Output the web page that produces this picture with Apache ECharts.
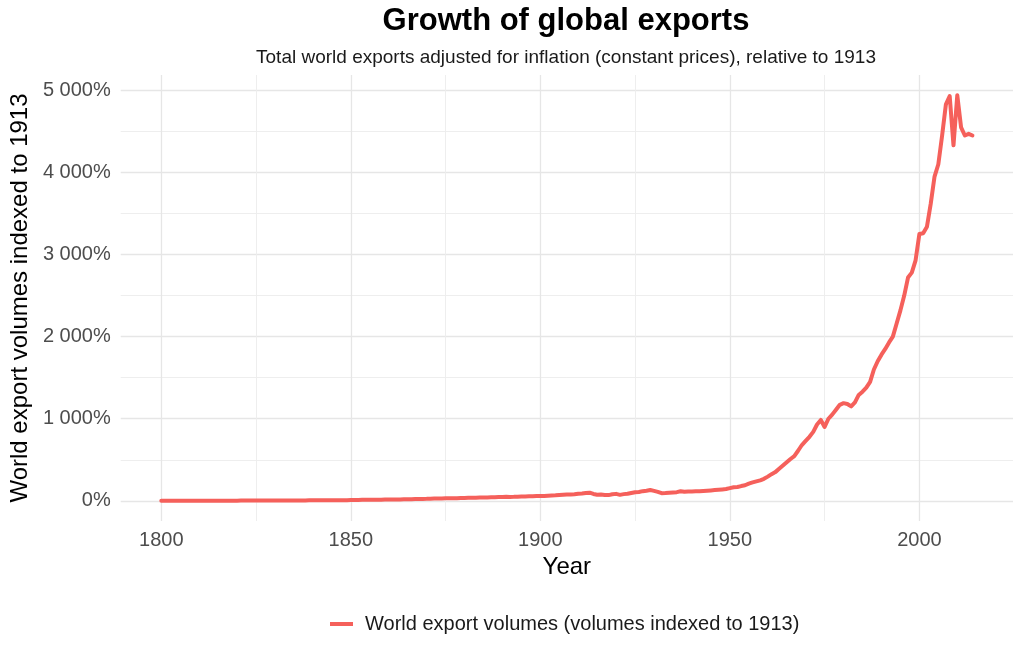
<!DOCTYPE html>
<html>
<head>
<meta charset="utf-8">
<title>Growth of global exports</title>
<script src="https://cdn.jsdelivr.net/npm/echarts@6/dist/echarts.min.js"></script>
<style>
  html, body { margin: 0; padding: 0; background: #fff; }
  #chart { width: 1024px; height: 655px; }
</style>
</head>
<body>
<div id="chart"></div>
<script>
// world export volumes, 1913 = 100 (%), one value per year from firstYear
var firstYear = 1800;
var exportIndex = [
  1.5, 1.6, 1.7, 1.6, 1.7, 1.8, 1.8, 1.7, 1.5, 1.7,        // 1800s
  1.8, 1.7, 1.7, 1.8, 2.0, 2.2, 2.3, 2.4, 2.5, 2.5,        // 1810s
  2.6, 2.8, 2.9, 3.0, 3.2, 3.3, 3.3, 3.6, 3.7, 3.8,        // 1820s
  4.0, 4.1, 4.3, 4.5, 4.7, 4.9, 5.3, 5.2, 5.5, 5.8,        // 1830s
  6.0, 6.2, 6.3, 6.7, 7.2, 7.6, 7.8, 8.2, 8.0, 8.8,        // 1840s
  9.7, 10.3, 11.0, 12.2, 12.8, 13.0, 14.2, 14.5, 14.4, 15.8, // 1850s
  17.0, 17.2, 17.0, 17.8, 18.6, 20.0, 21.0, 22.0, 23.3, 24.0, // 1860s
  24.5, 26.5, 28.0, 28.6, 29.5, 30.6, 31.0, 31.7, 32.5, 34.5, // 1870s
  36.0, 37.0, 38.5, 39.2, 39.8, 40.5, 41.5, 43.0, 44.5, 46.5, // 1880s
  47.5, 48.5, 48.0, 48.5, 50.5, 52.0, 53.5, 55.0, 57.0, 58.5, // 1890s
  59.0, 60.0, 62.5, 65.5, 67.0, 71.0, 75.0, 78.0, 76.0, 80.0, // 1900s
  86.0, 89.0, 95.0, 100.0, 84.0, 74.0, 78.0, 72.0, 70.0, 80.0, // 1910s
  85.0, 73.0, 82.0, 86.0, 96.0, 105.0, 108.0, 118.0, 124.0, 132.0, // 1920s
  122.0, 110.0, 94.0, 95.0, 98.0, 102.0, 106.0, 117.0, 110.0, 113.0, // 1930s
  114.0, 116.0, 118.0, 121.0, 124.0, 127.0, 131.0, 135.0, 139.0, 144.0, // 1940s
  155, 165, 168, 180, 190, 210, 225, 238, 250, 268,         // 1950s
  295, 325, 350, 390, 430, 470, 510, 545, 610, 680,         // 1960s
  730, 780, 840, 930, 985, 900, 1000, 1050, 1110, 1170,     // 1970s
  1190, 1180, 1150, 1200, 1290, 1330, 1380, 1450, 1600, 1700, // 1980s
  1780, 1850, 1930, 2000, 2160, 2320, 2500, 2720, 2780, 2930, // 1990s
  3250, 3260, 3340, 3620, 3950, 4100, 4450, 4830, 4930, 4330, // 2000s
  4940, 4550, 4450, 4470, 4450                              // 2010s
];

var yearTicks = [1800, 1850, 1900, 1950, 2000];
var yearMinorTicks = [1825, 1875, 1925, 1975];
var pctTicks = [0, 1000, 2000, 3000, 4000, 5000];
var pctMinorTicks = [500, 1500, 2500, 3500, 4500];

var seriesName = 'World export volumes (volumes indexed to 1913)';
var lineColor = '#F5605B';
var font = '"Liberation Sans", Arial, Helvetica, sans-serif';

var points = exportIndex.map(function (v, i) { return [firstYear + i, v]; });

// ggplot-style 5% padding around the data range
var lastYear = firstYear + exportIndex.length - 1;
var xPad = (lastYear - firstYear) * 0.05;
var yMinV = Math.min.apply(null, exportIndex);
var yMaxV = Math.max.apply(null, exportIndex);
var yPad = (yMaxV - yMinV) * 0.05;

function pctLabel(v) {
  return String(Math.round(v)).replace(/\B(?=(\d{3})+(?!\d))/g, ' ') + '%';
}

var chart = echarts.init(document.getElementById('chart'));
chart.setOption({
  animation: false,
  backgroundColor: '#fff',
  textStyle: { fontFamily: font },
  title: [{
    text: 'Growth of global exports',
    left: 566, top: 6, textAlign: 'center', padding: 0,
    textStyle: { fontSize: 31, fontWeight: 'bold', color: '#000', fontFamily: font }
  }, {
    text: 'Total world exports adjusted for inflation (constant prices), relative to 1913',
    left: 566, top: 48, textAlign: 'center', padding: 0,
    textStyle: { fontSize: 19, fontWeight: 'normal', color: '#1a1a1a', fontFamily: font }
  }],
  grid: { left: 117, right: 11, top: 75, bottom: 134, containLabel: false },
  legend: {
    left: 325, top: 609,
    icon: 'rect', itemWidth: 23, itemHeight: 4,
    textStyle: { fontSize: 20, color: '#1a1a1a', fontFamily: font, padding: [0, 0, 0, 7] },
    data: [seriesName]
  },
  xAxis: [{
    type: 'value',
    min: firstYear - xPad, max: lastYear + xPad,
    name: 'Year', nameLocation: 'middle', nameGap: 32,
    nameTextStyle: { fontSize: 24, color: '#000', fontFamily: font },
    axisLine: { show: false }, axisTick: { show: false, customValues: yearTicks },
    axisLabel: { customValues: yearTicks, fontSize: 20, color: '#4d4d4d', margin: 9, fontFamily: font,
      formatter: function (v) { return String(v); } },
    splitLine: { show: true, lineStyle: { color: '#e6e6e6', width: 1.3 } }
  }, {
    type: 'value',
    min: firstYear - xPad, max: lastYear + xPad,
    axisLine: { show: false }, axisTick: { show: false, customValues: yearMinorTicks },
    axisLabel: { show: false },
    splitLine: { show: true, lineStyle: { color: '#ececec', width: 0.9 } }
  }],
  yAxis: [{
    type: 'value',
    min: yMinV - yPad, max: yMaxV + yPad,
    name: 'World export volumes indexed to 1913', nameLocation: 'middle', nameGap: 88,
    nameTextStyle: { fontSize: 24, color: '#000', fontFamily: font },
    axisLine: { show: false }, axisTick: { show: false, customValues: pctTicks },
    axisLabel: { customValues: pctTicks, fontSize: 20, color: '#4d4d4d', margin: 10, fontFamily: font,
      formatter: pctLabel },
    splitLine: { show: true, lineStyle: { color: '#e6e6e6', width: 1.3 } }
  }, {
    type: 'value',
    min: yMinV - yPad, max: yMaxV + yPad,
    axisLine: { show: false }, axisTick: { show: false, customValues: pctMinorTicks },
    axisLabel: { show: false },
    splitLine: { show: true, lineStyle: { color: '#ececec', width: 0.9 } }
  }],
  series: [{
    name: seriesName,
    type: 'line',
    data: points,
    showSymbol: false,
    symbol: 'none',
    lineStyle: { color: lineColor, width: 4, join: 'round', cap: 'round' },
    itemStyle: { color: lineColor },
    z: 5
  }]
});
</script>
</body>
</html>
